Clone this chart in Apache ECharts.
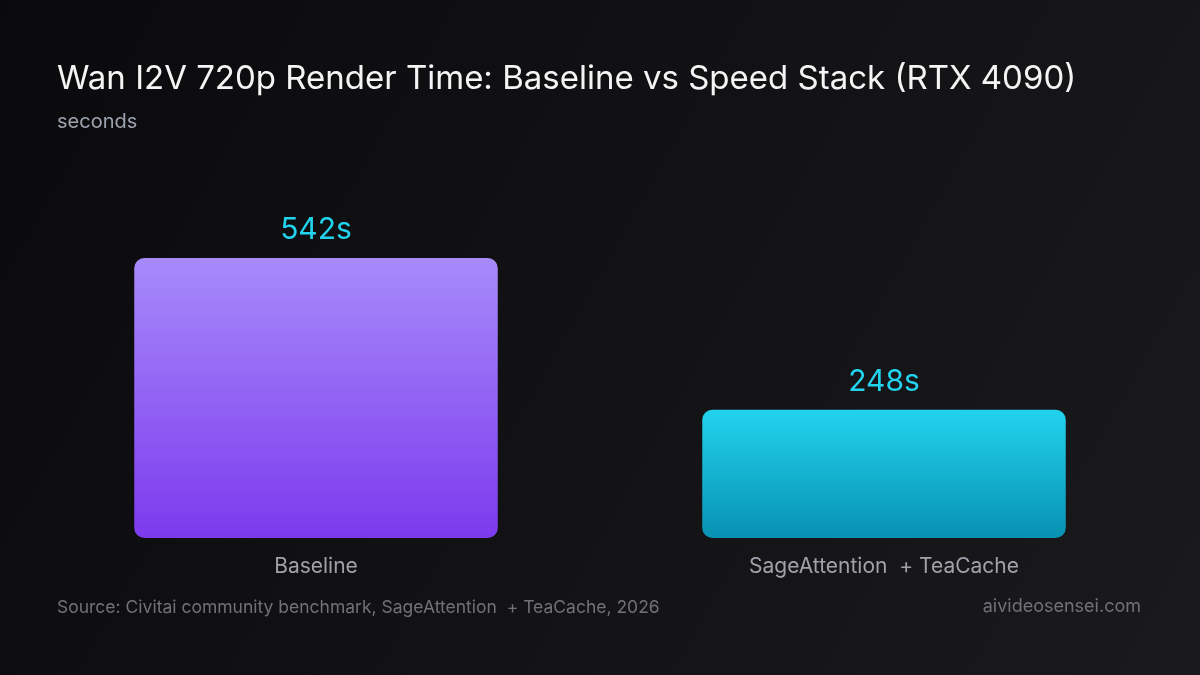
<!DOCTYPE html>
<html>
<head>
<meta charset="utf-8">
<script src="https://cdn.jsdelivr.net/npm/echarts@6/dist/echarts.min.js"></script>
<style>html,body{margin:0;padding:0;background:#0b0b0d;}#c{width:1200px;height:675px;}</style>
</head>
<body>
<div id="c"></div>
<script>
const categories = ['Baseline', 'SageAttention  + TeaCache'];
const renderSeconds = [542, 248];
const titleText = 'Wan I2V 720p Render Time: Baseline vs Speed Stack (RTX 4090)';
const subtitleText = 'seconds';
const sourceText = 'Source: Civitai community benchmark, SageAttention  + TeaCache, 2026';
const brandText = 'aivideosensei.com';

const FONT = 'Inter, "Noto Sans", sans-serif';
const barGradients = [
  ['#a78bfa', '#7c3aed'],
  ['#22d3ee', '#0891b2']
];

const chart = echarts.init(document.getElementById('c'), null, {renderer: 'canvas'});
chart.setOption({
  backgroundColor: new echarts.graphic.LinearGradient(0, 0, 1, 1, [
    {offset: 0, color: '#0a0a0c'},
    {offset: 1, color: '#1a1a1d'}
  ]),
  animation: false,
  title: [
    {text: titleText, left: 52, top: 58,
     textStyle: {color: '#f4f4f5', fontSize: 33, fontWeight: 'normal', fontFamily: FONT}},
    {text: subtitleText, left: 52, top: 107,
     textStyle: {color: '#9ca3af', fontSize: 20, fontWeight: 'normal', fontFamily: FONT}},
    {text: sourceText, left: 52, top: 594,
     textStyle: {color: '#71717a', fontSize: 17.5, fontWeight: 'normal', fontFamily: FONT}},
    {text: brandText, right: 54, top: 593,
     textStyle: {color: '#71717a', fontSize: 18, fontWeight: 'normal', fontFamily: FONT}}
  ],
  grid: {left: 32, right: 32, top: 228, bottom: 137, containLabel: false},
  xAxis: {
    type: 'category',
    data: categories,
    axisLine: {show: false},
    axisTick: {show: false},
    axisLabel: {color: '#a1a1aa', fontSize: 21, fontFamily: FONT, margin: 18}
  },
  yAxis: {
    type: 'value',
    min: 0, max: 600,
    show: false,
    splitLine: {show: false}
  },
  series: [{
    type: 'bar',
    barWidth: '64%',
    data: renderSeconds.map((v, i) => ({
      value: v,
      itemStyle: {
        borderRadius: 10,
        color: new echarts.graphic.LinearGradient(0, 0, 0, 1, [
          {offset: 0, color: barGradients[i][0]},
          {offset: 1, color: barGradients[i][1]}
        ])
      }
    })),
    label: {
      show: true,
      position: 'top',
      distance: 13,
      color: '#22d3ee',
      fontSize: 30,
      fontFamily: FONT,
      formatter: p => p.value + 's'
    }
  }]
});
</script>
</body>
</html>
